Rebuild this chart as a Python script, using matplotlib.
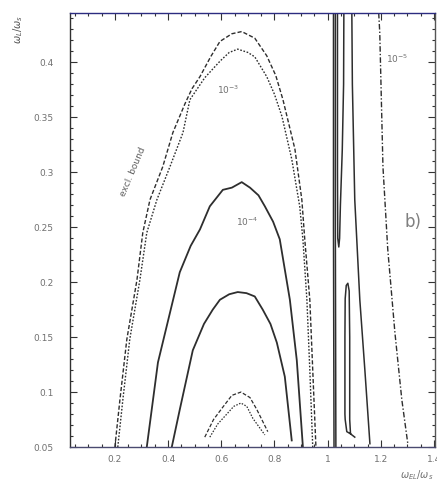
import matplotlib
matplotlib.use("Agg")
import matplotlib.pyplot as plt
from matplotlib.ticker import MultipleLocator, FixedLocator, FixedFormatter

# Contour lines in the (omega/omega_s, omega_L/omega_s) plane
excl_x = [0.200, 0.219, 0.245, 0.283, 0.305, 0.332, 0.380, 0.418, 0.463, 0.490, 0.520,
          0.560, 0.595, 0.640, 0.677, 0.726, 0.771, 0.805, 0.832, 0.877, 0.903, 0.914, 0.933, 0.944, 0.956]
excl_y = [0.050, 0.093, 0.148, 0.202, 0.245, 0.275, 0.305, 0.336, 0.362, 0.376, 0.387,
          0.405, 0.419, 0.426, 0.428, 0.422, 0.406, 0.388, 0.366, 0.321, 0.275, 0.239, 0.184, 0.120, 0.050]

c3_x = [0.211, 0.230, 0.256, 0.294, 0.320, 0.358, 0.407, 0.456, 0.482, 0.538, 0.595,
        0.630, 0.662, 0.700, 0.726, 0.771, 0.800, 0.828, 0.865, 0.895, 0.907, 0.922, 0.933, 0.944]
c3_y = [0.050, 0.093, 0.148, 0.202, 0.245, 0.275, 0.305, 0.336, 0.366, 0.386, 0.401,
        0.409, 0.412, 0.409, 0.405, 0.387, 0.371, 0.351, 0.312, 0.269, 0.239, 0.184, 0.120, 0.050]

c4_x = [0.320, 0.362, 0.407, 0.444, 0.485, 0.520, 0.557, 0.606, 0.640, 0.677, 0.708,
        0.740, 0.764, 0.795, 0.820, 0.858, 0.884, 0.907]
c4_y = [0.050, 0.127, 0.172, 0.209, 0.233, 0.248, 0.269, 0.284, 0.286, 0.291, 0.286,
        0.279, 0.269, 0.255, 0.239, 0.184, 0.129, 0.050]

c5_x = [0.414, 0.444, 0.493, 0.535, 0.568, 0.595, 0.630, 0.662, 0.695, 0.726, 0.756,
        0.785, 0.809, 0.839, 0.865]
c5_y = [0.050, 0.084, 0.138, 0.162, 0.175, 0.184, 0.189, 0.191, 0.190, 0.187, 0.175,
        0.162, 0.145, 0.114, 0.056]

c6a_x = [0.538, 0.571, 0.605, 0.640, 0.674, 0.708, 0.734, 0.775]
c6a_y = [0.059, 0.075, 0.086, 0.097, 0.100, 0.095, 0.084, 0.064]
c6b_x = [0.557, 0.587, 0.621, 0.647, 0.674, 0.696, 0.719, 0.764]
c6b_y = [0.059, 0.071, 0.080, 0.087, 0.090, 0.087, 0.076, 0.061]

# resonance branches near omega/omega_s ~ 1
ra_x = [1.022, 1.022, 1.024]
ra_y = [0.445, 0.250, 0.050]
rb_x = [1.029, 1.029, 1.031]
rb_y = [0.445, 0.250, 0.050]
rc_x = [1.037, 1.037, 1.038, 1.042, 1.045, 1.048, 1.055, 1.060, 1.061]
rc_y = [0.445, 0.300, 0.240, 0.232, 0.240, 0.270, 0.320, 0.380, 0.445]
rd_x = [1.091, 1.093, 1.102, 1.121, 1.140, 1.159]
rd_y = [0.445, 0.380, 0.275, 0.184, 0.120, 0.053]
re_x = [1.086, 1.072, 1.066, 1.065, 1.065, 1.066, 1.070, 1.076, 1.081, 1.083, 1.083, 1.086, 1.102]
re_y = [0.062, 0.064, 0.075, 0.080, 0.150, 0.185, 0.197, 0.199, 0.192, 0.150, 0.075, 0.062, 0.059]

c5e_x = [1.192, 1.196, 1.208, 1.226, 1.253, 1.279, 1.302]
c5e_y = [0.445, 0.427, 0.305, 0.230, 0.154, 0.093, 0.052]

xticks = [0.2, 0.4, 0.6, 0.8, 1.0, 1.2, 1.4]
xtick_labels = ["0.2", "0.4", "0.6", "0.8", "1", "1.2", "1.4"]
yticks = [0.05, 0.1, 0.15, 0.2, 0.25, 0.3, 0.35, 0.4]
ytick_labels = ["0.05", "0.1", "0.15", "0.2", "0.25", "0.3", "0.35", "0.4"]

ink = "#2e2e2e"

fig = plt.figure(figsize=(4.37, 4.84), dpi=100)
ax = fig.add_axes([0.160, 0.0764, 0.835, 0.897])

ax.plot(excl_x, excl_y, color=ink, lw=1.0, ls=(0, (3, 1.5)))
ax.plot(c3_x, c3_y, color=ink, lw=1.0, ls=(0, (1.2, 1.2)))
ax.plot(c4_x, c4_y, color=ink, lw=1.3)
ax.plot(c5_x, c5_y, color=ink, lw=1.3)
ax.plot(c6a_x, c6a_y, color=ink, lw=0.9, ls=(0, (3, 1.5)))
ax.plot(c6b_x, c6b_y, color=ink, lw=0.9, ls=(0, (1.2, 1.2)))
for xs, ys in [(ra_x, ra_y), (rb_x, rb_y), (rc_x, rc_y), (rd_x, rd_y), (re_x, re_y)]:
    ax.plot(xs, ys, color=ink, lw=1.1)
ax.plot(c5e_x, c5e_y, color=ink, lw=1.0, ls=(0, (4, 1.5, 1, 1.5)))

ax.set_xlim(0.031, 1.403)
ax.set_ylim(0.05, 0.445)

ax.xaxis.set_major_locator(FixedLocator(xticks))
ax.xaxis.set_major_formatter(FixedFormatter(xtick_labels))
ax.xaxis.set_minor_locator(MultipleLocator(0.05))
ax.yaxis.set_major_locator(FixedLocator(yticks))
ax.yaxis.set_major_formatter(FixedFormatter(ytick_labels))
ax.yaxis.set_minor_locator(MultipleLocator(0.01))
ax.tick_params(which="both", direction="in", top=True, right=True,
               color="#333333", labelcolor="#707070", labelsize=6.5, width=0.8)
ax.tick_params(which="major", length=5)
ax.tick_params(axis="x", which="major", pad=6)
ax.tick_params(axis="y", which="major", pad=12)
ax.tick_params(which="minor", length=2.5)

for side, col in [("left", "#303030"), ("bottom", "#4a4a70"),
                  ("top", "#2c2c80"), ("right", "#555555")]:
    ax.spines[side].set_color(col)
    ax.spines[side].set_linewidth(1.0)

txt = dict(color="#707070", fontsize=6.5)
ax.text(0.625, 0.375, r"$10^{-3}$", ha="center", va="center", **txt)
ax.text(0.696, 0.255, r"$10^{-4}$", ha="center", va="center", **txt)
ax.text(1.260, 0.403, r"$10^{-5}$", ha="center", va="center", **txt)
ax.text(0.268, 0.300, "excl. bound", rotation=67, ha="center", va="center",
        color="#606060", fontsize=6.5)
ax.text(1.320, 0.255, "b)", ha="center", va="center", color="#808080", fontsize=12)

fig.text(0.041, 0.94, r"$\omega_L/\omega_s$", rotation=90, ha="center", va="center",
         color="#505050", fontsize=7)
fig.text(0.915, 0.019, r"$\omega_{EL}/\omega_s$", ha="left", va="center",
         color="#707070", fontsize=7)

fig.savefig("out.png", dpi=100)
